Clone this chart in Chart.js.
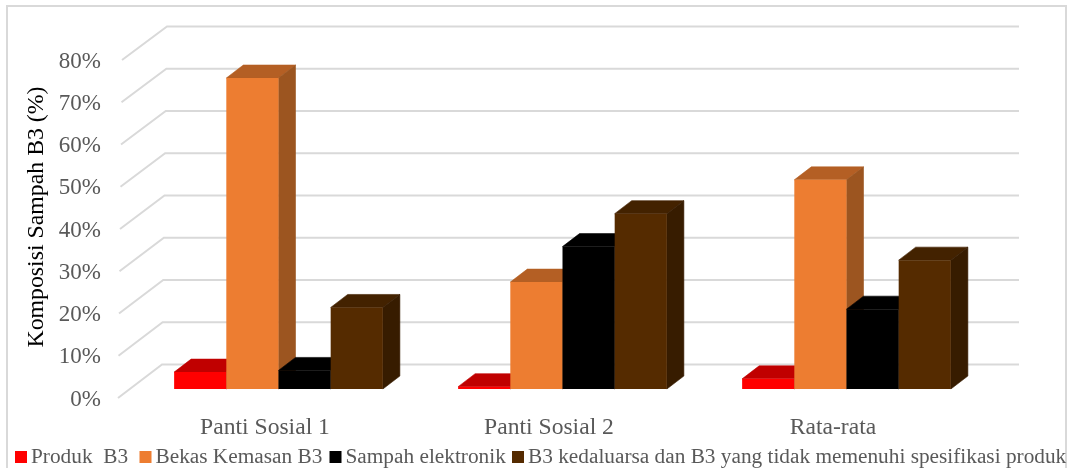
<!DOCTYPE html>
<html><head><meta charset="utf-8">
<style>html,body{margin:0;padding:0;background:#fff}canvas{display:block}</style>
<script src="https://cdn.jsdelivr.net/npm/chart.js@4/dist/chart.umd.js"></script>
</head><body><canvas id="c" width="1067" height="468"></canvas>
<script>
const categories = ["Panti Sosial 1", "Panti Sosial 2", "Rata-rata"];
const seriesNames = ["Produk  B3", "Bekas Kemasan B3", "Sampah elektronik", "B3 kedaluarsa dan B3 yang tidak memenuhi spesifikasi produk"];
const produkB3 = [4.0, 0.55, 2.4];
const bekasKemasan = [73.6, 25.3, 49.5];
const sampahElektronik = [4.4, 33.7, 18.9];
const kedaluarsa = [19.3, 41.5, 30.5];
const frontColors = ["#FF0000", "#ED7D31", "#000000", "#552B00"];
const topColors = ["#C00000", "#B45F24", "#000000", "#432200"];
const sideColors = ["#A00000", "#9C5520", "#000000", "#371C00"];
const axisTitle = "Komposisi Sampah B3 (%)";
const serif = "'Liberation Serif','Times New Roman',serif";
const textGray = "#595959", gridGray = "#D9D9D9";

const BAR_SHIFT = {x: 13.5, y: -10.5};
const BAR_DEPTH = {x: 17, y: -13};
const GRID_LIFT = 1.5;

function face(ctx, color, pts) {
  ctx.fillStyle = color; ctx.strokeStyle = color; ctx.lineWidth = 0.6;
  ctx.beginPath();
  pts.forEach((p, i) => i ? ctx.lineTo(p[0], p[1]) : ctx.moveTo(p[0], p[1]));
  ctx.closePath(); ctx.fill(); ctx.stroke();
}

const scene = {
  id: "scene",
  beforeDraw(chart) {
    const {ctx} = chart, y = chart.scales.y;
    ctx.save();
    ctx.strokeStyle = gridGray; ctx.lineWidth = 2;
    ctx.strokeRect(7, 6, 1059, 480);
    y.ticks.forEach(t => {
      const py = y.getPixelForValue(t.value) - GRID_LIFT, f = t.value / 80;
      ctx.beginPath();
      ctx.moveTo(118 + 4 * f, py);
      ctx.lineTo(162 + 5 * f, py - 33.5);
      ctx.lineTo(1019, py - 33.5);
      ctx.stroke();
    });
    ctx.restore();
  },
  beforeDatasetsDraw(chart) {
    const {ctx} = chart;
    ctx.save();
    ctx.translate(BAR_SHIFT.x, BAR_SHIFT.y);
    chart.data.datasets.forEach((ds, di) => {
      chart.getDatasetMeta(di).data.forEach(bar => {
        const {x, y, base, width} = bar.getProps(["x", "y", "base", "width"], true);
        const l = x - width / 2, r = x + width / 2, dx = BAR_DEPTH.x, dy = BAR_DEPTH.y;
        face(ctx, topColors[di], [[l, y], [l + dx, y + dy], [r + dx, y + dy], [r, y]]);
        face(ctx, sideColors[di], [[r, y], [r + dx, y + dy], [r + dx, base + dy], [r, base]]);
        bar.draw(ctx);
      });
    });
    ctx.restore();
    return false;
  },
  afterDraw(chart) {
    const {ctx} = chart;
    ctx.save();
    ctx.translate(36.5, 217); ctx.rotate(-Math.PI / 2);
    ctx.font = "23.8px " + serif; ctx.fillStyle = "#000";
    ctx.textAlign = "center"; ctx.textBaseline = "middle";
    ctx.fillText(axisTitle, 0, 0);
    ctx.restore();
    ctx.save();
    ctx.font = "21.3px " + serif; ctx.textBaseline = "middle"; ctx.textAlign = "left";
    const boxes = [15, 139.5, 329.5, 512];
    seriesNames.forEach((n, i) => {
      ctx.fillStyle = frontColors[i];
      ctx.fillRect(boxes[i], 451, 12, 12);
      ctx.fillStyle = textGray;
      ctx.fillText(n, boxes[i] + 16, 457);
    });
    ctx.restore();
  }
};

new Chart(document.getElementById("c"), {
  type: "bar",
  data: {
    labels: categories,
    datasets: [produkB3, bekasKemasan, sampahElektronik, kedaluarsa].map((d, i) => ({
      label: seriesNames[i], data: d, backgroundColor: frontColors[i], borderWidth: 0,
      categoryPercentage: 0.735, barPercentage: 1
    }))
  },
  options: {
    responsive: false, animation: false,
    layout: {padding: {left: 0, right: 92, top: 61.5, bottom: 0}},
    plugins: {legend: {display: false}, tooltip: {enabled: false}, title: {display: false}},
    scales: {
      x: {
        grid: {display: false}, border: {display: false},
        ticks: {color: textGray, font: {family: serif, size: 23.6}, padding: 6.5, maxRotation: 0},
        afterFit(s) { s.height = 68.5; }
      },
      y: {
        min: 0, max: 80, grid: {display: false}, border: {display: false},
        ticks: {stepSize: 10, color: textGray, font: {family: serif, size: 23}, padding: 14, callback: v => v + "%"},
        afterFit(s) { s.width = 123; }
      }
    }
  },
  plugins: [scene]
});
</script></body></html>
